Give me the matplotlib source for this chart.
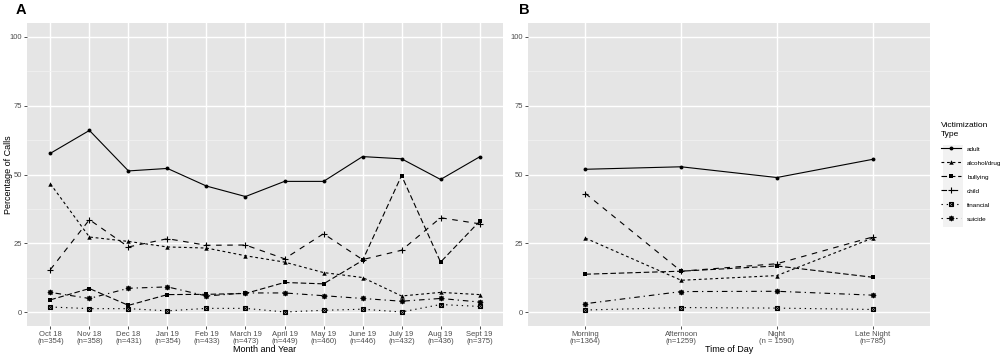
import matplotlib
matplotlib.use("Agg")
import matplotlib.pyplot as plt
from matplotlib.lines import Line2D
from matplotlib.patches import Rectangle
from matplotlib.legend_handler import HandlerTuple
from matplotlib.ticker import MultipleLocator

plt.rcParams['font.family'] = ['Liberation Sans', 'DejaVu Sans']

# ---------------- data ----------------
months = ["Oct 18\n(n=354)", "Nov 18\n(n=358)", "Dec 18\n(n=431)", "Jan 19\n(n=354)",
          "Feb 19\n(n=433)", "March 19\n(n=473)", "April 19\n(n=449)", "May 19\n(n=460)",
          "June 19\n(n=446)", "July 19\n(n=432)", "Aug 19\n(n=436)", "Sept 19\n(n=375)"]
times = ["Morning\n(n=1364)", "Afternoon\n(n=1259)", "Night\n(n = 1590)", "Late Night\n(n=785)"]

types = ["adult", "alcohol/drug", "bullying", "child", "financial", "suicide"]

month_adult = [57.7, 66.0, 51.3, 52.2, 45.8, 42.0, 47.5, 47.5, 56.5, 55.7, 48.2, 56.4]
month_alcohol = [46.6, 27.3, 25.7, 23.7, 23.3, 20.5, 18.2, 14.4, 12.6, 5.9, 7.2, 6.4]
month_bullying = [4.5, 8.6, 2.5, 6.4, 6.5, 6.8, 10.8, 10.3, 18.8, 49.6, 18.2, 33.0]
month_child = [15.5, 33.6, 23.7, 26.7, 24.3, 24.4, 19.4, 28.5, 19.1, 22.5, 34.3, 32.1]
month_financial = [1.9, 1.3, 1.3, 0.5, 1.4, 1.4, 0.1, 0.7, 1.1, 0.1, 2.8, 2.1]
month_suicide = [7.2, 5.0, 8.7, 9.2, 5.9, 7.0, 7.0, 6.0, 5.0, 4.0, 5.0, 3.7]

time_adult = [51.9, 52.8, 48.9, 55.5]
time_alcohol = [26.9, 11.6, 13.3, 26.9]
time_bullying = [13.8, 14.9, 16.8, 12.7]
time_child = [43.1, 14.9, 17.6, 27.3]
time_financial = [0.8, 1.7, 1.5, 1.0]
time_suicide = [3.1, 7.5, 7.6, 6.2]

month_series = [month_adult, month_alcohol, month_bullying, month_child, month_financial, month_suicide]
time_series = [time_adult, time_alcohol, time_bullying, time_child, time_financial, time_suicide]

# ---------------- styles ----------------
LW = 0.8
lstyles = ["-", (0, (2.5, 2.5)), (0, (5, 2.5)), (0, (5, 5)), (0, (1.2, 3.5)), (0, (1.2, 3.5, 5, 3.5))]
mstyles = ["o", "^", "s", "+", "s", (8, 2, 0)]
msizes = [2.8, 3.2, 2.8, 4.0, 3.2, 3.8]

W, H = 1000, 356
fig = plt.figure(figsize=(10, 3.56), dpi=100)

def px_axes(x0, x1, y0, y1):
    return fig.add_axes([x0 / W, 1 - y1 / H, (x1 - x0) / W, (y1 - y0) / H])

axA = px_axes(27, 503, 23, 326)
axB = px_axes(528, 930, 23, 326)

def line_kwargs(i):
    t = types[i]
    if t == "financial":
        return dict(color="black", lw=LW, linestyle=lstyles[i], marker="s",
                    markersize=msizes[i], markerfacecolor="none", markeredgewidth=0.8)
    if t in ("child", "suicide"):
        return dict(color="black", lw=LW, linestyle=lstyles[i], marker=mstyles[i],
                    markersize=msizes[i], markeredgewidth=0.8)
    return dict(color="black", lw=LW, linestyle=lstyles[i], marker=mstyles[i],
                markersize=msizes[i], markeredgewidth=0)

xmark_kwargs = dict(color="black", lw=0, marker="x", markersize=msizes[4] - 0.8,
                    markeredgewidth=0.7)

def draw(ax, labels, series):
    x = list(range(len(labels)))
    for i, vals in enumerate(series):
        ax.plot(x, vals, zorder=3, **line_kwargs(i))
        if types[i] == "financial":
            ax.plot(x, vals, zorder=3, **xmark_kwargs)
    ax.set_facecolor("#e5e5e5")
    ax.set_xlim(-0.6, len(labels) - 1 + 0.6)
    ax.set_ylim(-5, 105)
    ax.set_xticks(x)
    ax.set_xticklabels(labels, fontsize=5.5, color="#4d4d4d", linespacing=0.95)
    ax.set_yticks([0, 25, 50, 75, 100])
    ax.set_yticklabels(["0", "25", "50", "75", "100"], fontsize=5.5, color="#4d4d4d")
    ax.yaxis.set_minor_locator(MultipleLocator(12.5))
    ax.grid(True, which="major", color="white", lw=1.0)
    ax.grid(True, which="minor", axis="y", color="#f2f2f2", lw=0.5)
    ax.set_axisbelow(True)
    for s in ax.spines.values():
        s.set_visible(False)
    ax.tick_params(axis="both", which="major", length=2, width=0.6, color="#333333", pad=1.5)
    ax.tick_params(axis="both", which="minor", length=0)

draw(axA, months, month_series)
draw(axB, times, time_series)

axA.set_xlabel("Month and Year", fontsize=6.5, labelpad=0.5)
axA.set_ylabel("Percentage of Calls", fontsize=6.5)
axA.yaxis.set_label_coords(-14 / 476, 0.5)
axB.set_xlabel("Time of Day", fontsize=6.5, labelpad=0.5)

fig.text(16 / W, 1 - 10 / H, "A", fontsize=10.5, fontweight="bold", va="center", ha="left")
fig.text(519 / W, 1 - 10 / H, "B", fontsize=10.5, fontweight="bold", va="center", ha="left")

# legend
handles = []
for i, t in enumerate(types):
    h = Line2D([], [], **line_kwargs(i))
    if t == "financial":
        handles.append((h, Line2D([], [], **xmark_kwargs)))
    else:
        handles.append(h)

fig.patches.append(Rectangle((943 / W, 1 - 227 / H), 20 / W, 82 / H,
                             transform=fig.transFigure, facecolor="#f2f2f2",
                             edgecolor="none", zorder=0))
leg = fig.legend(handles, types, loc="upper left", bbox_to_anchor=(941 / W, 1 - 122 / H),
                 frameon=False, fontsize=4.6, title="Victimization\nType",
                 title_fontproperties={"size": 6.0}, handlelength=3.1, handletextpad=1.0,
                 labelspacing=1.33, borderaxespad=0, borderpad=0,
                 handler_map={tuple: HandlerTuple(ndivide=1)})
leg.get_title().set_linespacing(1.35)
leg._legend_box.align = "left"

fig.savefig("out.png", dpi=100)
